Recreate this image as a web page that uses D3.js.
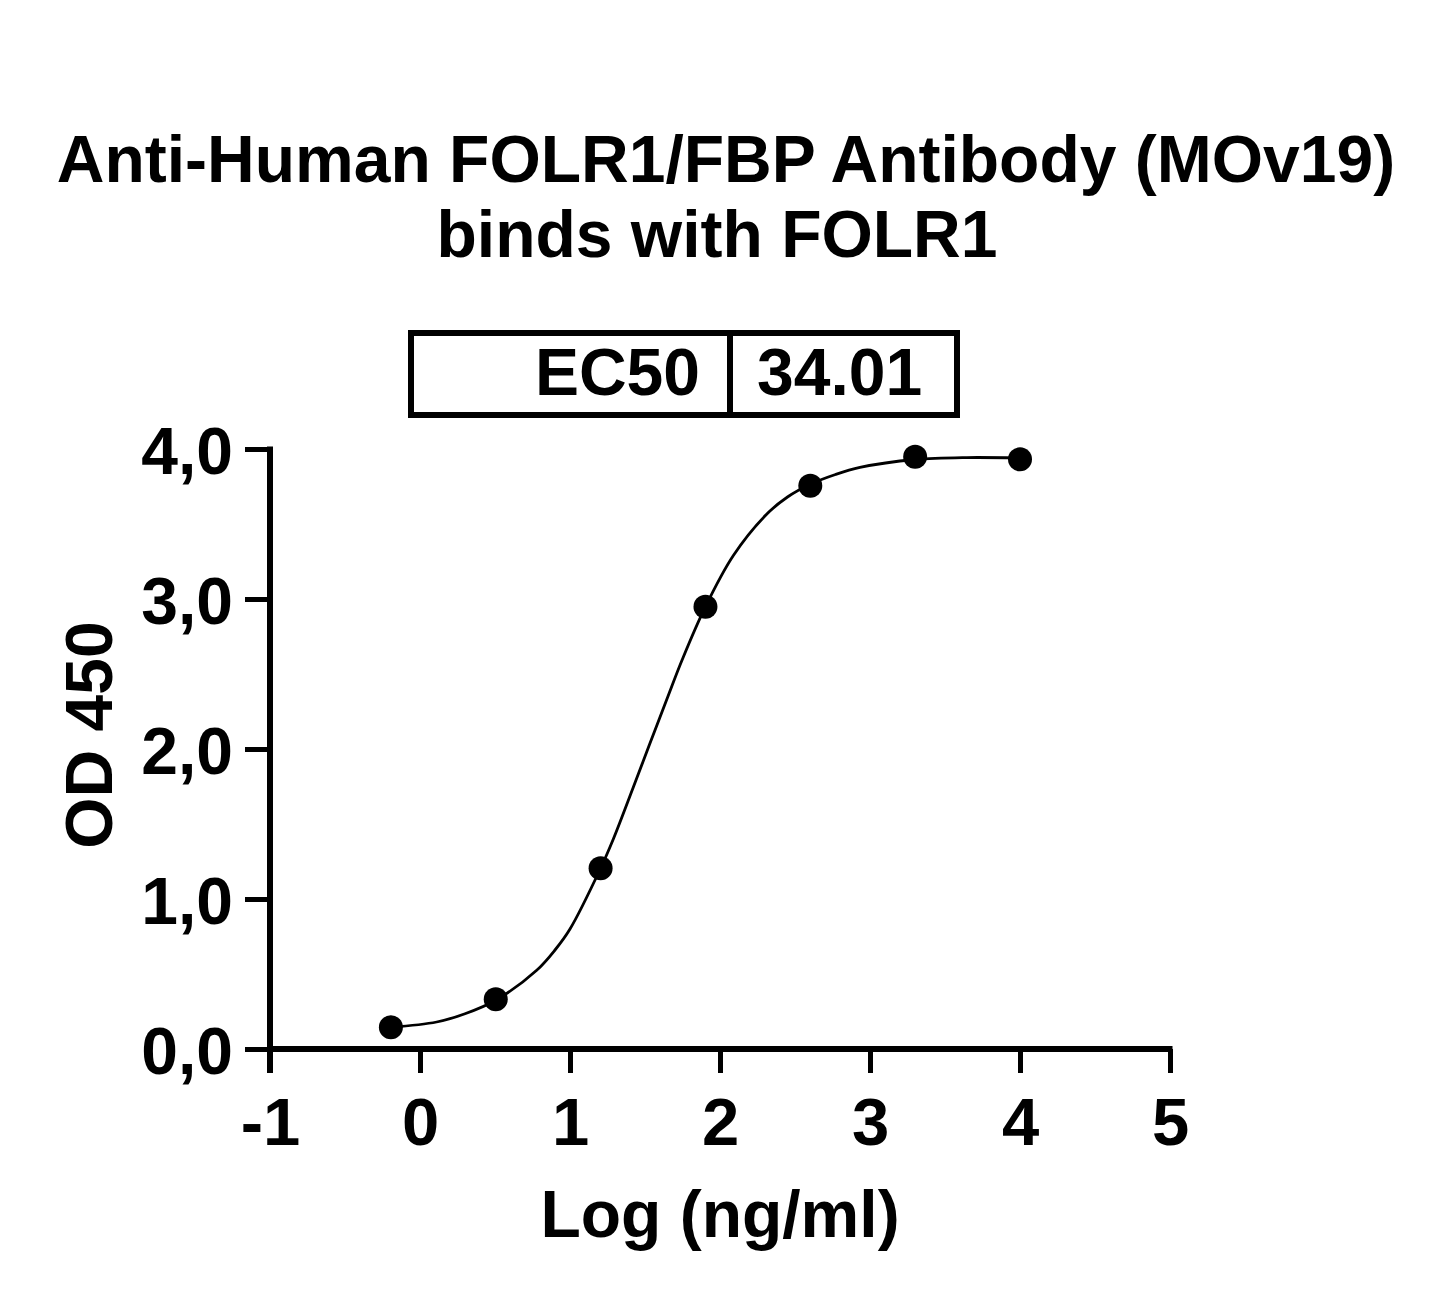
<!DOCTYPE html>
<html>
<head>
<meta charset="utf-8">
<script src="https://cdn.jsdelivr.net/npm/d3@7"></script>
<style>
  html, body { margin: 0; padding: 0; background: #fff; }
  svg text { font-family: "Liberation Sans", Arial, sans-serif; font-weight: bold; fill: #000; }
</style>
</head>
<body>
<svg id="chart" width="1439" height="1295"></svg>
<script>
// ---- data ----
const titleLines = ["Anti-Human FOLR1/FBP Antibody (MOv19)", "binds with FOLR1"];
const xLabel = "Log (ng/ml)";
const yLabel = "OD 450";
const ec50Label = "EC50";
const ec50Value = "34.01";

const xTicks = [-1, 0, 1, 2, 3, 4, 5];
const xTickLabels = ["-1", "0", "1", "2", "3", "4", "5"];
const yTicks = [0, 1, 2, 3, 4];
const yTickLabels = ["0,0", "1,0", "2,0", "3,0", "4,0"];

// measured points: log10 concentration (ng/ml) and OD450
const logConc = [-0.194, 0.505, 1.204, 1.903, 2.602, 3.301, 4.0];
const od450   = [0.145, 0.331, 1.205, 2.949, 3.755, 3.949, 3.931];

// fitted curve
const fitX = [-0.194, 0.111, 0.3, 0.505, 0.778, 0.9, 1.0, 1.204, 1.289, 1.422, 1.53, 1.645, 1.75, 1.903, 2.089, 2.311, 2.45, 2.602, 2.77, 2.933, 3.301, 3.645, 4.0];
const fitY = [0.145, 0.18, 0.235, 0.325, 0.525, 0.66, 0.8, 1.205, 1.4, 1.745, 2.03, 2.33, 2.60, 2.949, 3.29, 3.565, 3.68, 3.765, 3.83, 3.877, 3.93, 3.943, 3.94];

// ---- layout ----
const svg = d3.select("#chart");
const x = d3.scaleLinear().domain([-1, 5]).range([270, 1170]);
const y = d3.scaleLinear().domain([0, 4]).range([1049, 449]);

// title
svg.append("text").attr("x", 726).attr("y", 182).attr("text-anchor", "middle")
  .style("font-size", "66px").text(titleLines[0]);
svg.append("text").attr("x", 717).attr("y", 257).attr("text-anchor", "middle")
  .style("font-size", "66px").text(titleLines[1]);

// EC50 box
svg.append("rect").attr("x", 411).attr("y", 333).attr("width", 546).attr("height", 82)
  .attr("fill", "none").attr("stroke", "#000").attr("stroke-width", 6);
svg.append("line").attr("x1", 730).attr("x2", 730).attr("y1", 333).attr("y2", 415)
  .attr("stroke", "#000").attr("stroke-width", 6);
svg.append("text").attr("x", 700).attr("y", 395).attr("text-anchor", "end")
  .style("font-size", "66px").text(ec50Label);
svg.append("text").attr("x", 757).attr("y", 395).attr("text-anchor", "start")
  .style("font-size", "66px").text(ec50Value);

// axes
const xAxis = d3.axisBottom(x).tickValues(xTicks).tickSize(24).tickFormat((d, i) => xTickLabels[i]);
const gx = svg.append("g").attr("transform", `translate(0,${y(0)})`).call(xAxis);
gx.select(".domain").attr("d", `M${x(-1) - 3},0H${x(5) + 2.5}`).attr("stroke-width", 6).attr("stroke", "#000");
gx.selectAll(".tick line").attr("stroke-width", 5).attr("stroke", "#000");
gx.selectAll(".tick text").attr("y", 96).attr("dy", null)
  .style("font-size", "67px").style("font-family", "'Liberation Sans', Arial, sans-serif")
  .style("font-weight", "bold").attr("fill", "#000");

const yAxis = d3.axisLeft(y).tickValues(yTicks).tickSize(25).tickFormat((d, i) => yTickLabels[i]);
const gy = svg.append("g").attr("transform", `translate(${x(-1)},0)`).call(yAxis);
gy.select(".domain").attr("d", `M0,${y(4) - 2.5}V${y(0) + 24}`).attr("stroke-width", 6).attr("stroke", "#000");
gy.selectAll(".tick line").attr("stroke-width", 5).attr("stroke", "#000");
gy.selectAll(".tick text").attr("x", -37).attr("dy", null).attr("y", 24)
  .style("font-size", "66px").style("font-family", "'Liberation Sans', Arial, sans-serif")
  .style("font-weight", "bold").attr("fill", "#000");

// axis titles
svg.append("text").attr("x", 720).attr("y", 1237).attr("text-anchor", "middle")
  .style("font-size", "66px").text(xLabel);
svg.append("text").attr("transform", "translate(112,735) rotate(-90)").attr("text-anchor", "middle")
  .style("font-size", "66px").text(yLabel);

// fitted curve
const line = d3.line().x(d => x(d[0])).y(d => y(d[1])).curve(d3.curveCatmullRom.alpha(0.5));
svg.append("path").datum(fitX.map((v, i) => [v, fitY[i]]))
  .attr("d", line).attr("fill", "none").attr("stroke", "#000").attr("stroke-width", 2.8);

// points
svg.selectAll("circle.pt").data(logConc.map((v, i) => [v, od450[i]])).enter()
  .append("circle").attr("class", "pt")
  .attr("cx", d => x(d[0])).attr("cy", d => y(d[1])).attr("r", 12).attr("fill", "#000");
</script>
</body>
</html>
